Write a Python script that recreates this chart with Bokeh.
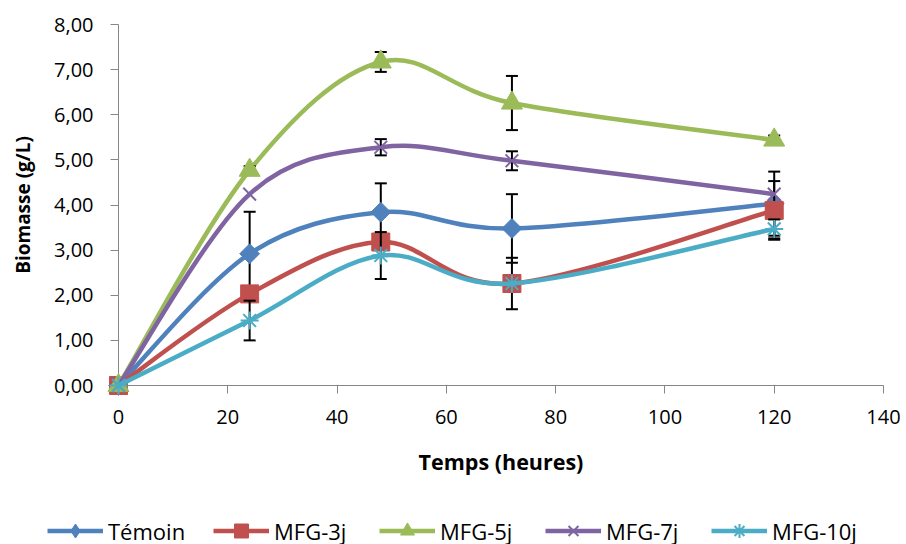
import numpy as np
from bokeh.plotting import figure
from bokeh.layouts import column
from bokeh.models import FixedTicker, Legend, LegendItem, Range1d
from bokeh.embed import file_html
from bokeh.resources import INLINE

# ---------------- data ----------------
time_h = [0, 24, 48, 72, 120]
series_names = ["Témoin", "MFG-3j", "MFG-5j", "MFG-7j", "MFG-10j"]
temoin = [0.0, 2.92, 3.84, 3.48, 4.03]
mfg3 = [0.0, 2.03, 3.18, 2.26, 3.88]
mfg5 = [0.0, 4.77, 7.17, 6.26, 5.44]
mfg7 = [0.0, 4.24, 5.28, 4.98, 4.24]
mfg10 = [0.0, 1.44, 2.88, 2.26, 3.47]
err_temoin = [0.0, 0.93, 0.64, 0.76, 0.71]
err_mfg3 = [0.0, 0.0, 0.0, 0.57, 0.65]
err_mfg5 = [0.0, 0.09, 0.22, 0.60, 0.10]
err_mfg7 = [0.0, 0.0, 0.18, 0.21, 0.0]
err_mfg10 = [0.0, 0.44, 0.52, 0.0, 0.21]
x_ticks = [0, 20, 40, 60, 80, 100, 120, 140]
y_ticks = [0, 1, 2, 3, 4, 5, 6, 7, 8]
y_tick_labels = ["0,00", "1,00", "2,00", "3,00", "4,00", "5,00", "6,00", "7,00", "8,00"]

values = [temoin, mfg3, mfg5, mfg7, mfg10]
errors = [err_temoin, err_mfg3, err_mfg5, err_mfg7, err_mfg10]
colors = ["#4F81BD", "#C0504D", "#9BBB59", "#8064A2", "#4BACC6"]
markers = ["square", "square", "triangle", "x", "asterisk"]
legend_markers = ["diamond", "square", "triangle", "x", "asterisk"]
angles = [np.pi / 4, 0, 0, 0, 0]
sizes = [14, 18, 21, 18, 18]
mk_lw = [1, 1, 1, 2, 2]

FONT = "Open Sans"
W = 906
MAIN_H = 500
LEG_H = 44

p = figure(width=W, height=MAIN_H, output_backend="svg", toolbar_location=None,
           x_range=Range1d(0, 140), y_range=Range1d(0, 8),
           min_border_left=118, min_border_right=23, min_border_top=24,
           min_border_bottom=115)
p.xgrid.visible = False
p.ygrid.visible = False
p.outline_line_color = None
p.background_fill_color = "white"
p.border_fill_color = "white"

for ax in (p.xaxis[0], p.yaxis[0]):
    ax.axis_line_color = "#868686"
    ax.axis_line_width = 1
    ax.major_tick_line_color = "#868686"
    ax.major_tick_in = 0
    ax.major_tick_out = 8
    ax.minor_tick_line_color = None
    ax.major_label_text_font = FONT
    ax.major_label_text_font_size = "20px"
    ax.major_label_text_color = "black"
    ax.axis_label_text_font = FONT
    ax.axis_label_text_font_style = "bold"
    ax.axis_label_text_color = "black"

p.xaxis.axis_label_text_font_size = "21.5px"
p.yaxis.axis_label_text_font_size = "19px"
p.xaxis.ticker = FixedTicker(ticks=x_ticks)
p.yaxis.ticker = FixedTicker(ticks=y_ticks)
p.yaxis.major_label_overrides = {t: l for t, l in zip(y_ticks, y_tick_labels)}
p.xaxis.axis_label = "Temps (heures)"
p.yaxis.axis_label = "Biomasse (g/L)"
p.xaxis.major_label_standoff = 16
p.yaxis.major_label_standoff = 17
p.xaxis.axis_label_standoff = 20
p.yaxis.axis_label_standoff = 15


def smooth_controls(xs, ys):
    n = len(xs)
    out = {k: [] for k in ("x0", "y0", "x1", "y1", "cx0", "cy0", "cx1", "cy1")}
    for i in range(n - 1):
        im = i - 1 if i > 0 else i
        ip = i + 2 if i + 2 < n else i + 1
        out["x0"].append(xs[i]); out["y0"].append(ys[i])
        out["x1"].append(xs[i + 1]); out["y1"].append(ys[i + 1])
        out["cx0"].append(xs[i] + (xs[i + 1] - xs[im]) / 6.0)
        out["cy0"].append(ys[i] + (ys[i + 1] - ys[im]) / 6.0)
        out["cx1"].append(xs[i + 1] - (xs[ip] - xs[i]) / 6.0)
        out["cy1"].append(ys[i + 1] - (ys[ip] - ys[i]) / 6.0)
    return out


for ys, es, c, m, a, s, lw in zip(values, errors, colors, markers, angles, sizes, mk_lw):
    ctl = smooth_controls(time_h, ys)
    p.bezier(line_color=c, line_width=4.5, level="annotation", **ctl)
    ex = [x for x, e in zip(time_h, es) if e > 0]
    elo = [y - e for y, e in zip(ys, es) if e > 0]
    ehi = [y + e for y, e in zip(ys, es) if e > 0]
    if ex:
        p.segment(x0=ex, y0=elo, x1=ex, y1=ehi, line_color="black", line_width=2,
                  level="annotation")
        p.scatter(x=ex + ex, y=elo + ehi, marker="dash", size=12, line_color="black",
                  line_width=2, level="annotation")
    p.scatter(x=time_h, y=ys, marker=m, size=s, angle=a, fill_color=c,
              line_color=c, line_width=lw, level="annotation")

# ---------------- legend strip ----------------
lg = figure(width=W, height=LEG_H, output_backend="svg", toolbar_location=None,
            x_range=Range1d(1000, 1001), y_range=Range1d(1000, 1001),
            min_border_left=0, min_border_right=0, min_border_top=0,
            min_border_bottom=0, x_axis_location=None, y_axis_location=None)
lg.xgrid.visible = False
lg.ygrid.visible = False
lg.outline_line_color = None
lg.background_fill_color = "white"
lg.border_fill_color = "white"

has_frame_align = "frame_align" in lg.properties()
if has_frame_align:
    lg.frame_align = False
    p.frame_align = False
loc_x = 47 if has_frame_align else -71

items = []
for name, ys, c, m, lw in zip(series_names, values, colors, legend_markers, mk_lw):
    lr = lg.line(x=time_h, y=ys, line_color=c, line_width=4.5)
    sr = lg.scatter(x=time_h, y=ys, marker=m, fill_color=c, line_color=c,
                    line_width=lw)
    items.append(LegendItem(label=name, renderers=[lr, sr]))

legend = Legend(items=items, orientation="horizontal", location=(loc_x, -4),
                glyph_width=56, glyph_height=35, label_standoff=5, spacing=25,
                label_width=80, padding=0, margin=0, border_line_color=None,
                background_fill_alpha=0, label_text_font=FONT,
                label_text_font_size="22px", label_text_color="black")
lg.add_layout(legend, "center")

layout = column(p, lg, spacing=0)
open("out.html", "w").write(file_html(layout, INLINE))
